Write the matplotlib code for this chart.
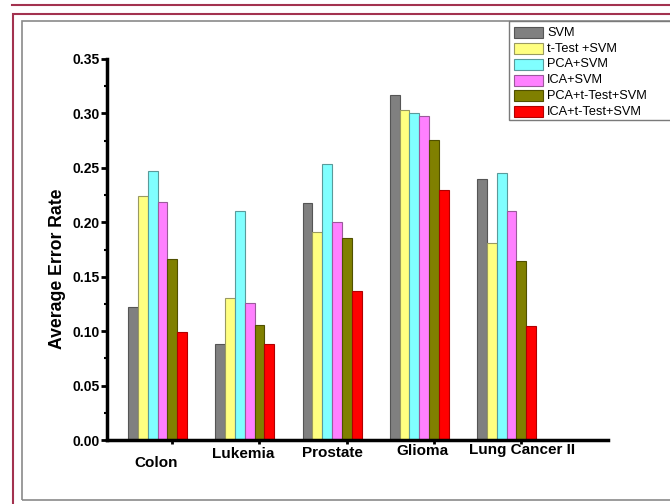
import numpy as np
import matplotlib
matplotlib.use("Agg")
import matplotlib.pyplot as plt
from matplotlib.patches import Rectangle
from matplotlib.lines import Line2D

plt.rcParams['font.family'] = ['Liberation Sans', 'DejaVu Sans']

# Data
datasets = ['Colon', 'Lukemia', 'Prostate', 'Glioma', 'Lung Cancer II']
methods = ['SVM', 't-Test +SVM', 'PCA+SVM', 'ICA+SVM', 'PCA+t-Test+SVM', 'ICA+t-Test+SVM']
svm      = [0.122, 0.088, 0.218, 0.317, 0.240]
ttest    = [0.224, 0.130, 0.191, 0.303, 0.181]
pca      = [0.247, 0.210, 0.254, 0.300, 0.245]
ica      = [0.219, 0.126, 0.200, 0.298, 0.210]
pca_t    = [0.166, 0.106, 0.186, 0.276, 0.164]
ica_t    = [0.099, 0.088, 0.137, 0.230, 0.105]
series = [svm, ttest, pca, ica, pca_t, ica_t]
colors = ['#808080', '#FFFF80', '#80FFFF', '#FF80FF', '#808000', '#FF0000']
edges  = ['#555555', '#9a9a60', '#5a9a9a', '#9a5a9a', '#505000', '#b00000']

# label placement (offset in x units, y in axes fraction) - labels sit unevenly in the original
label_dx = [-0.02, -0.02, 0.0, 0.04, 0.18]
label_y  = [-0.060, -0.037, -0.034, -0.029, -0.026]

fig = plt.figure(figsize=(6.7, 5.04), dpi=100)

# page decorations: red rule, red box, grey box
W, H = 670.0, 504.0
fig.add_artist(Line2D([12/W, 1], [1-5/H, 1-5/H], color='#a3324f', lw=1.5))
fig.add_artist(Rectangle((13/W, -0.1), 1.0, 1-14/H+0.1, fill=False, ec='#a3324f', lw=1.5))
fig.add_artist(Rectangle((22/W, 1-500/H), 1.0, (500-21)/H, fill=False, ec='#8a8a8a', lw=1.2))

ax = fig.add_axes([107/W, 1-440/H, (608-107)/W, (440-59)/H])

x = np.arange(1, len(datasets)+1)
w = 0.1127
for k, vals in enumerate(series):
    ax.bar(x + (k-2.5)*w, vals, width=w, color=colors[k], edgecolor=edges[k], linewidth=0.8, zorder=2)

ax.set_xlim(0.421, 6.163)
ax.set_ylim(0, 0.35)
ax.set_yticks(np.arange(0, 0.351, 0.05))
ax.set_yticks(np.arange(0.025, 0.35, 0.05), minor=True)
ax.set_yticklabels(['%.2f' % v for v in np.arange(0, 0.351, 0.05)], fontsize=10, fontweight='bold')
ax.set_xticks(x + 0.166)
ax.set_xticklabels([])
ax.tick_params(axis='y', which='major', length=4, width=2, direction='out', pad=1)
ax.tick_params(axis='y', which='minor', length=2.5, width=1.5, direction='out')
ax.tick_params(axis='x', which='major', length=3, width=2, direction='out')
for s in ['top', 'right']:
    ax.spines[s].set_visible(False)
for s in ['left', 'bottom']:
    ax.spines[s].set_linewidth(2.5)
    ax.spines[s].set_capstyle('projecting')
ax.set_ylabel('Average Error Rate', fontsize=12.7, fontweight='bold')
ax.yaxis.set_label_coords(-0.081, 0.449)

for i, name in enumerate(datasets):
    ax.text(x[i] + label_dx[i], label_y[i], name, transform=ax.get_xaxis_transform(),
            ha='center', va='center', fontsize=11, fontweight='bold')

# legend box, drawn by hand so its frame can run off the page like the original
fig.add_artist(Rectangle((509/W, 1-120/H), 1.0, (120-21)/H, fill=True, fc='white', ec='#7a7a7a', lw=1.0, zorder=5))
row0, step = 32.7, 15.8
for k, name in enumerate(methods):
    yc = row0 + k*step
    fig.add_artist(Rectangle((514/W, 1-(yc+5.5)/H), 29/W, 11/H, fc=colors[k], ec=edges[k], lw=0.8, zorder=6))
    fig.text(547/W, 1-yc/H, name, fontsize=9.2, va='center', ha='left', zorder=7)

fig.savefig('out.png', dpi=100)
